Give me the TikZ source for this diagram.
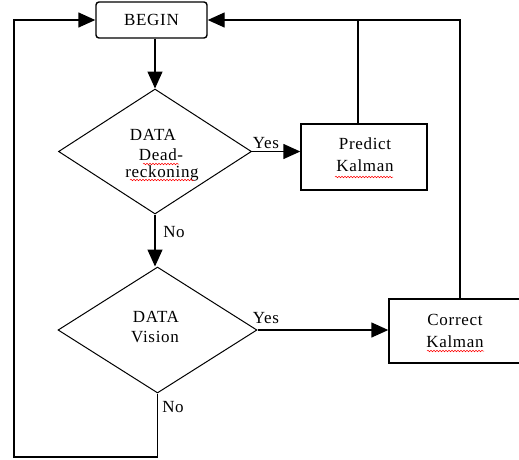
\documentclass[tikz,border=0pt]{standalone}
\usepackage{fontspec}
\setmainfont{Liberation Serif}
\usetikzlibrary{arrows.meta,shapes.geometric,decorations.pathmorphing}
\begin{document}
\begin{tikzpicture}[x=1pt,y=-1pt,
  every node/.style={font=\fontsize{17}{20}\selectfont\addfontfeature{LetterSpace=4}},
  box/.style={draw,line width=1.4pt,rectangle,inner sep=0pt},
  decision/.style={draw,line width=1pt,diamond,inner sep=0pt},
  txt/.style={inner sep=0pt,anchor=center},
  conn/.style={line width=1.4pt},
  arr/.style={conn,-{Triangle[length=17pt,width=15pt]}},
  spell/.style={red,line width=0.5pt,decorate,decoration={snake,segment length=3pt,amplitude=0.8pt}}]
\useasboundingbox (0,0) rectangle (519,459);
\clip (0,0) rectangle (519,459);
\fill[white] (0,0) rectangle (519,459);
% nodes
\node[box,rounded corners=3pt,minimum width=111pt,minimum height=36pt] (begin) at (151.5,20) {BEGIN};
\node[decision,minimum width=193pt,minimum height=125pt] (d1) at (155,151.5) {};
\node[txt] (d1a) at (153,135) {DATA};
\node[txt] (d1b) at (161,155) {Dead-};
\node[txt] (d1c) at (162,173) {reckoning};
\node[box,minimum width=126pt,minimum height=66pt] (pred) at (364,157) {};
\node[txt] (preda) at (365,144) {Predict};
\node[txt] (predb) at (365,166) {Kalman};
\node[decision,minimum width=199pt,minimum height=126pt] (d2) at (157.5,330) {};
\node[txt] (d2a) at (156,317) {DATA};
\node[txt] (d2b) at (155,337) {Vision};
\node[box,minimum width=141pt,minimum height=64pt] (corr) at (459.5,331) {};
\node[txt] (corra) at (455,320) {Correct};
\node[txt] (corrb) at (455,342) {Kalman};
% labels
\node[txt] (y1) at (266,143) {Yes};
\node[txt] (n1) at (174,232) {No};
\node[txt] (y2) at (266,318) {Yes};
\node[txt] (n2) at (173,407) {No};
% coordinates
\coordinate (bl) at (157.5,457);
\coordinate (bll) at (14,457);
\coordinate (tl) at (14,20);
\coordinate (tr) at (460,20);
\coordinate (tm) at (358,20);
% connectors
\draw[arr] (begin.south -| d1.north) -- (d1.north);
\draw[arr] (d1.east) -- (d1.east -| pred.west);
\draw[arr] (d1.south) -- (d1.south |- d2.north);
\draw[arr] (d2.east) -- (d2.east -| corr.west);
\draw[arr] (d2.south) -- (bl) -- (bll) -- (tl) -- (begin.west);
\draw[conn] (corr.north -| tr) -- (tr) -- (tm);
\draw[arr] (pred.north -| tm) -- (tm) -- (begin.east);
% spell-check underlines
\draw[spell] (143,164) -- (179,164);
\draw[spell] (130,180) -- (194,180);
\draw[spell] (335,177) -- (393,177);
\draw[spell] (427,351) -- (484,351);
\end{tikzpicture}
\end{document}
